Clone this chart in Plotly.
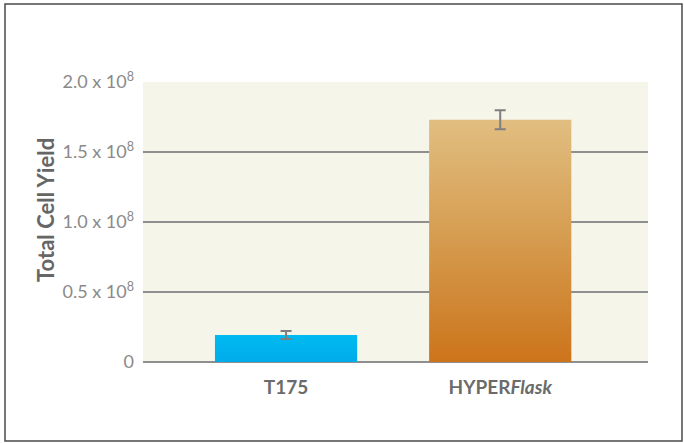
import plotly.graph_objects as go

categories = ["T175", "HYPER<i>Flask</i>"]
yields = [0.193e8, 1.73e8]
errors = [0.028e8, 0.068e8]
tick_vals = [0, 0.5e8, 1.0e8, 1.5e8, 2.0e8]
tick_text = ["0", "0.5 x 10<sup>8</sup>", "1.0 x 10<sup>8</sup>", "1.5 x 10<sup>8</sup>", "2.0 x 10<sup>8</sup>"]
y_title = "Total Cell Yield"

gradients = [
    [[0, "#00ACEA"], [1, "#00BAF0"]],
    [[0, "#CC741B"], [0.5, "#D59B4E"], [1, "#E1BE81"]],
]

W, H = 684, 443
ML, MR, MT, MB = 143, 36, 82, 81
BAR_W = 0.664

fig = go.Figure()
positions = list(range(len(categories)))
for pos, val, grad in zip(positions, yields, gradients):
    x0, x1 = pos - BAR_W / 2, pos + BAR_W / 2
    fig.add_trace(go.Scatter(
        x=[x0, x1, x1, x0, x0], y=[0, 0, val, val, 0],
        mode="lines", line=dict(width=0), fill="toself",
        fillgradient=dict(type="vertical", colorscale=grad, start=0, stop=val),
        hoverinfo="skip", showlegend=False,
    ))

fig.add_trace(go.Scatter(
    x=positions, y=yields, mode="markers",
    marker=dict(size=1, opacity=0),
    error_y=dict(type="data", array=errors, visible=True, color="#7f7f7f", thickness=2, width=5.5),
    showlegend=False, hoverinfo="skip",
))

pw = W - ML - MR
ph = H - MT - MB
fig.add_shape(
    type="rect", xref="paper", yref="paper",
    x0=(5 - ML) / pw, x1=(682 - ML) / pw,
    y0=(H - MB - 441) / ph, y1=(H - MB - 4) / ph,
    line=dict(color="#4a4a4a", width=1.5), fillcolor="rgba(0,0,0,0)", layer="below",
)

fig.add_annotation(
    text=y_title, textangle=-90, showarrow=False,
    xref="paper", yref="paper",
    x=(45 - ML) / pw, y=(H - MB - 210) / ph,
    xanchor="center", yanchor="middle",
    font=dict(size=22, color="#666666", weight="bold"),
)

fig.update_layout(
    width=W, height=H,
    margin=dict(l=ML, r=MR, t=MT, b=MB),
    paper_bgcolor="white", plot_bgcolor="#F6F5EA",
    font=dict(family="Lato, Open Sans, sans-serif"),
    xaxis=dict(
        range=[-0.668, 1.69], tickvals=positions, ticktext=categories,
        showgrid=False, zeroline=False, showline=False, ticks="",
        ticklabelstandoff=12,
        tickfont=dict(size=19, color="#6b6b6b", weight="bold"),
        fixedrange=True,
    ),
    yaxis=dict(
        range=[0, 2.0e8], tickvals=tick_vals, ticktext=tick_text,
        showgrid=True, gridcolor="#8f8f8f", gridwidth=1.5,
        zeroline=True, zerolinecolor="#8f8f8f", zerolinewidth=1.5,
        showline=False, ticks="", ticklabelstandoff=8,
        tickfont=dict(size=18, color="#8a8a8a"),
        fixedrange=True,
    ),
)

fig.write_html("out.html", config={"displayModeBar": False},
               post_script="document.body.style.margin='0';")
